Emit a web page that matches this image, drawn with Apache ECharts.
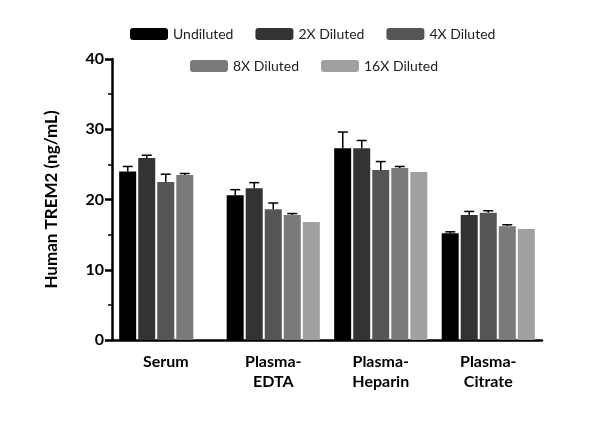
<!DOCTYPE html>
<html><head><meta charset="utf-8">
<script src="https://cdn.jsdelivr.net/npm/echarts@6/dist/echarts.min.js"></script>
<style>body{margin:0}#c{width:600px;height:430px}</style></head>
<body><div id="c"></div>
<script>
const categories = ["Serum", "Plasma-\nEDTA", "Plasma-\nHeparin", "Plasma-\nCitrate"];
const seriesNames = ["Undiluted", "2X Diluted", "4X Diluted", "8X Diluted", "16X Diluted"];
const colors = ["#000000", "#333333", "#555555", "#7a7a7a", "#a0a0a0"];
const undiluted = [24.0, 20.6, 27.3, 15.2];
const diluted2x = [25.9, 21.6, 27.3, 17.8];
const diluted4x = [22.5, 18.6, 24.2, 18.1];
const diluted8x = [23.5, 17.8, 24.5, 16.2];
const diluted16x = [null, 16.8, 23.9, 15.8];
const errUndiluted = [0.7, 0.8, 2.3, 0.2];
const err2x = [0.4, 0.8, 1.1, 0.5];
const err4x = [1.1, 0.9, 1.2, 0.3];
const err8x = [0.2, 0.2, 0.2, 0.2];
const err16x = [null, 2.7, 1.3, 0.4];

const values = [undiluted, diluted2x, diluted4x, diluted8x, diluted16x];
const errors = [errUndiluted, err2x, err4x, err8x, err16x];
const barW = 17, step = 19;

const chart = echarts.init(document.getElementById("c"));
const series = [];
values.forEach((v, i) => {
  series.push({
    name: seriesNames[i], type: "bar", data: v, barWidth: barW, barGap: "12%",
    itemStyle: { color: colors[i] }
  });
});
values.forEach((v, i) => {
  series.push({
    type: "custom", z: 1,
    data: v.map((y, k) => y == null ? null : [k, y, y + errors[i][k]]),
    renderItem: (params, api) => {
      const base = api.coord([api.value(0), api.value(1)]);
      const top = api.coord([api.value(0), api.value(2)]);
      const x = base[0] + (i - 2) * step;
      const st = { stroke: "#000", lineWidth: 1.5 };
      return { type: "group", children: [
        { type: "line", shape: { x1: x, y1: base[1], x2: x, y2: top[1] }, style: st },
        { type: "line", shape: { x1: x - 5, y1: top[1], x2: x + 5, y2: top[1] }, style: st }
      ]};
    }
  });
});
const font = "Lato, 'DejaVu Sans', sans-serif";
chart.setOption({
  textStyle: { fontFamily: font },
  legend: [
    { data: seriesNames.slice(0, 3), top: 22, left: 125, itemWidth: 38, itemHeight: 12, itemGap: 22,
      textStyle: { fontSize: 14, color: "#222" } },
    { data: seriesNames.slice(3), top: 54, left: 185, itemWidth: 38, itemHeight: 12, itemGap: 22,
      textStyle: { fontSize: 14, color: "#222" } }
  ],
  grid: { left: 112, right: 58, top: 59, bottom: 90 },
  xAxis: {
    type: "category", data: categories,
    axisLine: { lineStyle: { color: "#000", width: 2.5 } },
    axisTick: { show: false },
    axisLabel: { fontSize: 16, fontWeight: "bold", color: "#000", margin: 12, lineHeight: 20 }
  },
  yAxis: {
    type: "value", min: 0, max: 40, interval: 10,
    name: "Human TREM2 (ng/mL)", nameLocation: "middle", nameGap: 52,
    nameTextStyle: { fontSize: 17, fontWeight: "bold", color: "#000" },
    axisLine: { show: true, lineStyle: { color: "#000", width: 2.5 } },
    axisTick: { show: true, length: 7, lineStyle: { width: 2.5 } },
    minorTick: { show: true, splitNumber: 2, length: 4, lineStyle: { color: "#000", width: 1.5 } },
    splitLine: { show: false },
    axisLabel: { fontSize: 16, fontWeight: "bold", color: "#000" }
  },
  series
});
</script></body></html>
